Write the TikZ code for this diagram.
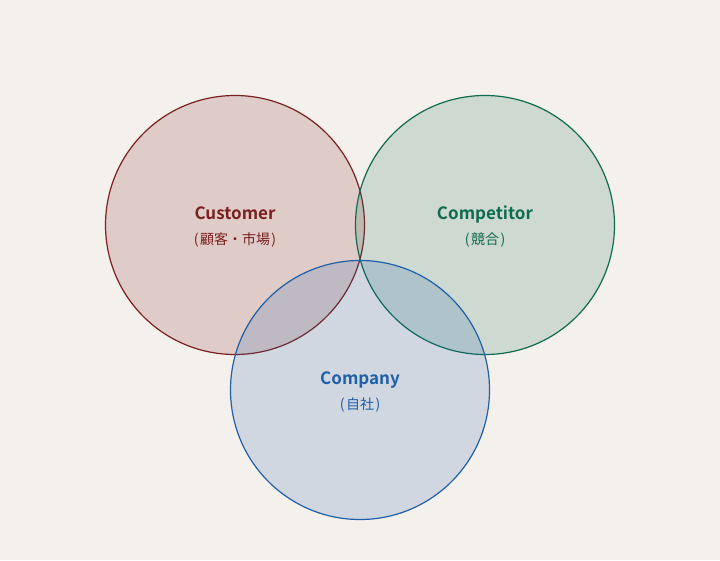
\documentclass[tikz,border=0pt]{standalone}
\usepackage{fontspec}
\setmainfont{Noto Sans CJK JP}[BoldFont={Noto Sans CJK JP Bold}]
\definecolor{bg}{RGB}{244,240,236}
\definecolor{cred}{RGB}{122,32,32}
\definecolor{cgreen}{RGB}{15,107,79}
\definecolor{cblue}{RGB}{31,95,168}
\newcommand{\paren}[1]{(\kern1.5pt#1\kern1.5pt)}
\begin{document}
\begin{tikzpicture}[x=1pt,y=-1pt,
    set/.style={circle,draw=#1,fill=#1,fill opacity=0.17,draw opacity=1,line width=1.2pt,minimum size=259pt,inner sep=0pt},
    title/.style={anchor=base,font=\fontsize{17}{19}\selectfont\bfseries,text=#1},
    sub/.style={anchor=base,font=\fontsize{14}{16}\selectfont,text=#1}]
    \fill[bg] (0,0) rectangle (720,560);
    \useasboundingbox (0,0) rectangle (720,560);
    \node[set=cred](cus) at (235,225) {};
    \node[set=cgreen](com) at (485,225) {};
    \node[set=cblue](cpy) at (360,390) {};
    \node[title=cred](cus1) at (235,219) {Customer};
    \node[sub=cred](cus2) at (235,244) {\paren{顧客・市場}};
    \node[title=cgreen](com1) at (485,219) {Competitor};
    \node[sub=cgreen](com2) at (485,244) {\paren{競合}};
    \node[title=cblue](cpy1) at (360,384) {Company};
    \node[sub=cblue](cpy2) at (360,409) {\paren{自社}};
\end{tikzpicture}
\end{document}
